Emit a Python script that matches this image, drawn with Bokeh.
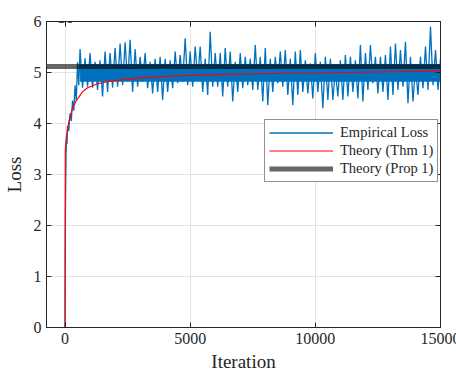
import numpy as np
from bokeh.plotting import figure
from bokeh.models import (Range1d, FixedTicker, CustomJSTickFormatter, LinearAxis,
                          Legend, LegendItem, Label)
from bokeh.embed import file_html
from bokeh.resources import INLINE

# ---------------- data ----------------
# Empirical loss: early ramp (iteration, loss)
ramp_iter = [0, 10, 20, 40, 60, 80, 100, 150, 200, 250, 300, 350, 400, 450, 500, 550]
ramp_loss = [0.0, 1.5e-3, 2.5e-3, 3.4e-3, 3.7e-3, 3.6e-3, 3.95e-3, 3.85e-3, 4.2e-3,
             4.05e-3, 4.45e-3, 4.25e-3, 4.75e-3, 4.45e-3, 5.2e-3, 4.75e-3]

# Empirical loss afterwards: local highs (at iteration k) and lows (at k+100), every 200 iterations
band_start = 600
band_step = 200
loss_hi = [5.46, 5.28, 5.38, 5.21, 5.24, 5.41, 5.38, 5.48, 5.57, 5.59, 5.64, 5.46,
           5.31, 5.38, 5.21, 5.27, 5.31, 5.27, 5.24, 5.41, 5.34, 5.67, 5.41, 5.51,
           5.51, 5.27, 5.80, 5.38, 5.38, 5.48, 5.41, 5.21, 5.38, 5.31, 5.27, 5.54,
           5.31, 5.48, 5.27, 5.31, 5.41, 5.44, 5.27, 5.41, 5.44, 5.24, 5.18, 5.38,
           5.21, 5.31, 5.27, 5.05, 5.24, 5.34, 5.31, 5.24, 5.54, 5.38, 5.54, 5.31,
           5.31, 5.34, 5.51, 5.57, 5.44, 5.60, 5.31, 5.11, 5.31, 5.51, 5.90, 5.44, 5.27]
loss_lo = [4.70, 4.72, 4.70, 4.66, 4.53, 4.62, 4.70, 4.72, 4.75, 4.82, 4.62, 4.72,
           4.82, 4.69, 4.59, 4.62, 4.46, 4.62, 4.69, 4.79, 4.82, 4.75, 4.72, 4.85,
           4.62, 4.56, 4.72, 4.72, 4.53, 4.72, 4.43, 4.62, 4.69, 4.75, 4.66, 4.66,
           4.43, 4.36, 4.62, 4.79, 4.72, 4.56, 4.36, 4.56, 4.62, 4.59, 4.49, 4.62,
           4.30, 4.46, 4.46, 4.53, 4.46, 4.53, 4.62, 4.49, 4.43, 4.66, 4.79, 4.59,
           4.62, 4.46, 4.56, 4.66, 4.72, 4.40, 4.43, 4.56, 4.69, 4.66, 4.75, 4.66, 4.75]
# dense (solid-looking) core of the noisy band
core_lo = 4.82
core_hi = 5.16
loss_scale = 1e-3

# Theory (Thm 1)
thm_iter = [0, 10, 30, 60, 90, 160, 300, 450, 700, 900, 1300, 1800, 2500, 3200,
            4600, 6000, 8000, 10000, 12500, 15000]
thm_loss = [0.0, 3.46e-3, 3.6e-3, 3.75e-3, 3.85e-3, 4.05e-3, 4.3e-3, 4.45e-3, 4.62e-3,
            4.70e-3, 4.78e-3, 4.83e-3, 4.87e-3, 4.90e-3, 4.94e-3, 4.96e-3, 4.98e-3,
            4.99e-3, 5.01e-3, 5.03e-3]

# Theory (Prop 1): constant level
prop_loss = 5.12e-3

x_ticks = [0, 5000, 10000, 15000]
y_ticks = [0, 1e-3, 2e-3, 3e-3, 4e-3, 5e-3, 6e-3]
x_lim = (-740, 15000)
y_lim = (0, 6e-3)

# ---------------- build series ----------------
emp_x = list(ramp_iter)
emp_y = list(ramp_loss)
for k, (h, l) in enumerate(zip(loss_hi, loss_lo)):
    it = band_start + k * band_step
    emp_x.append(it)
    emp_y.append(h * loss_scale)
    if it + band_step // 2 <= 15000:
        emp_x.append(it + band_step // 2)
        emp_y.append(l * loss_scale)
core_x = [band_start, emp_x[-1]]

FONT = "Liberation Serif"
AX = "#262626"
BLUE = "#0072BD"

p = figure(frame_width=394, frame_height=306,
           min_border_left=42, min_border_right=20, min_border_top=21, min_border_bottom=50,
           x_range=Range1d(*x_lim), y_range=Range1d(*y_lim),
           output_backend="svg", toolbar_location=None,
           background_fill_color="white", border_fill_color="white")

p.varea(x=core_x, y1=[core_lo * loss_scale] * 2, y2=[core_hi * loss_scale] * 2,
        fill_color=BLUE, fill_alpha=1.0)
r_emp = p.line(emp_x, emp_y, line_color=BLUE, line_width=1.3, line_join="bevel")
r_thm = p.line(thm_iter, thm_loss, line_color="#FF0000", line_width=1.2)
r_prop = p.line(list(x_lim), [prop_loss, prop_loss], line_color="black",
                line_alpha=0.6, line_width=5)

p.outline_line_color = AX
p.outline_line_width = 1

for ax in (p.xaxis[0], p.yaxis[0]):
    ax.axis_line_color = AX
    ax.major_tick_line_color = AX
    ax.major_tick_in = 5
    ax.major_tick_out = 0
    ax.minor_tick_in = 0
    ax.minor_tick_out = 0
    ax.major_label_text_font = FONT
    ax.major_label_text_font_size = "16px"
    ax.major_label_text_color = AX
    ax.axis_label_text_font = FONT
    ax.axis_label_text_font_size = "19px"
    ax.axis_label_text_font_style = "normal"
    ax.axis_label_text_color = AX

p.xaxis[0].ticker = FixedTicker(ticks=x_ticks)
p.yaxis[0].ticker = FixedTicker(ticks=y_ticks)
p.yaxis[0].formatter = CustomJSTickFormatter(code="return (tick*1000).toFixed(0);")
p.xaxis[0].axis_label = "Iteration"
p.yaxis[0].axis_label = "Loss"
p.xaxis[0].major_label_standoff = 5
p.yaxis[0].major_label_standoff = 5
p.xaxis[0].axis_label_standoff = 4
p.yaxis[0].axis_label_standoff = 6

# box ticks on top and right
for loc, tk in (("above", x_ticks), ("right", y_ticks)):
    a = LinearAxis(ticker=FixedTicker(ticks=tk),
                   formatter=CustomJSTickFormatter(code="return '';"),
                   axis_line_color=AX, major_tick_line_color=AX,
                   major_tick_in=5, major_tick_out=0, minor_tick_in=0, minor_tick_out=0,
                   major_label_standoff=0, major_label_text_font_size="1px")
    p.add_layout(a, loc)

p.xgrid.grid_line_color = "#e3e3e3"
p.ygrid.grid_line_color = "#e3e3e3"
p.xgrid.ticker = FixedTicker(ticks=x_ticks)
p.ygrid.ticker = FixedTicker(ticks=y_ticks)

# exponent label
p.add_layout(Label(x=x_lim[0], y=y_lim[1], x_offset=1, y_offset=4, text="×10",
                   text_font=FONT, text_font_size="17px", text_color=AX,
                   text_baseline="alphabetic"))
p.add_layout(Label(x=x_lim[0], y=y_lim[1], x_offset=23, y_offset=11, text="−3",
                   text_font=FONT, text_font_size="12px", text_color=AX,
                   text_baseline="alphabetic"))

legend = Legend(items=[LegendItem(label="Empirical Loss", renderers=[r_emp]),
                       LegendItem(label="Theory (Thm 1)", renderers=[r_thm]),
                       LegendItem(label="Theory (Prop 1)", renderers=[r_prop])],
                location=(218, 145), margin=0, padding=4, spacing=1,
                label_height=16, glyph_height=15, glyph_width=64, label_standoff=7,
                label_text_font=FONT, label_text_font_size="14.5px", label_text_color=AX,
                border_line_color=AX, border_line_width=1,
                background_fill_color="white", background_fill_alpha=1)
p.add_layout(legend, "center")

open("out.html", "w").write(file_html(p, INLINE))
